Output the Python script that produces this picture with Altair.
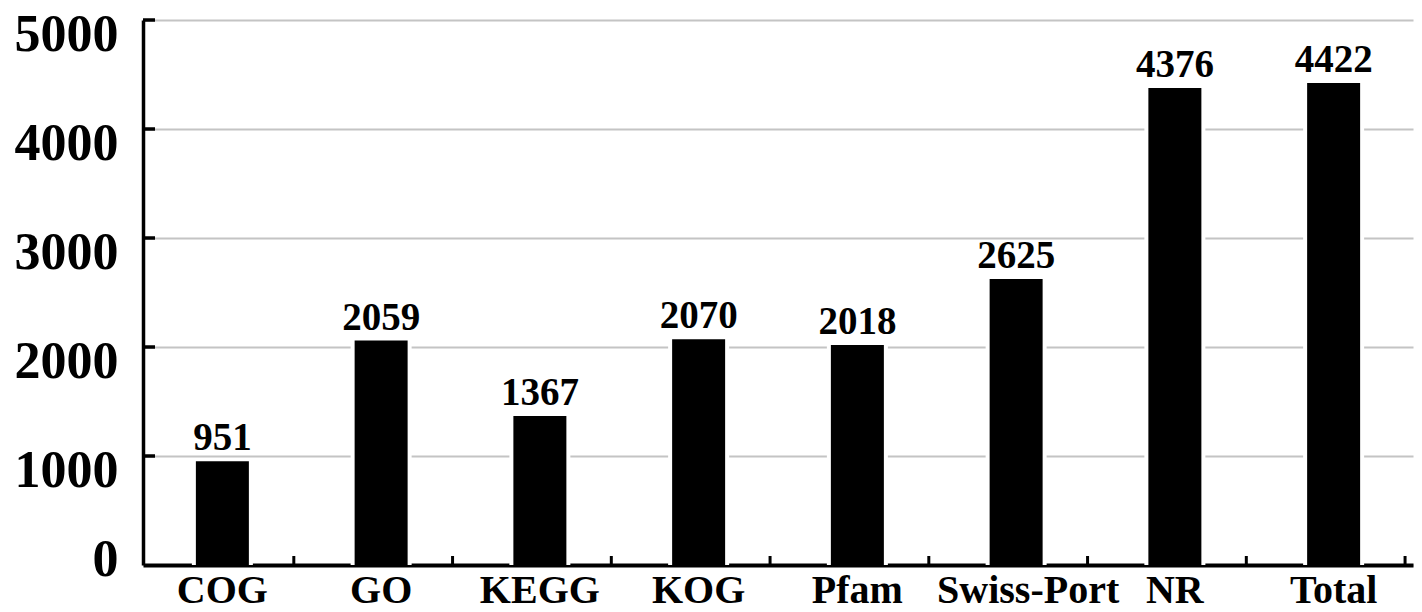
import altair as alt
import pandas as pd

# Annotated gene counts per database
databases = ["COG", "GO", "KEGG", "KOG", "Pfam", "Swiss-Port", "NR", "Total"]
counts = [951, 2059, 1367, 2070, 2018, 2625, 4376, 4422]
y_ticks = [0, 1000, 2000, 3000, 4000, 5000]

FONT = "Liberation Serif"

df = pd.DataFrame({"db": databases, "n": counts})
ticks_df = pd.DataFrame({"t": [v for v in y_ticks if v > 0]})

x_axis = alt.Axis(
    labelAngle=0,
    labelFont=FONT,
    labelFontSize=40,
    labelFontWeight="bold",
    labelColor="black",
    labelPadding=5,
    labelLimit=400,
    labelOffset={"condition": {"test": "datum.value == 'Swiss-Port'", "value": 12}, "value": 0},
    ticks=False,
    tickSize=0,
    domainColor="black",
    domainWidth=4,
    grid=False,
)
y_scale = alt.Scale(domain=[0, 5000], nice=False)
y_axis = alt.Axis(
    values=y_ticks,
    format="d",
    labelFont=FONT,
    labelFontSize=52,
    labelFontWeight="bold",
    labelColor="black",
    labelPadding=25,
    labelBaseline="middle",
    labelOffset={"condition": {"test": "datum.value == 0", "value": -6}, "value": 14},
    ticks=False,
    tickSize=0,
    domainColor="black",
    domainWidth=3.5,
    grid=True,
    gridColor="#c4c4c4",
    gridWidth=2,
)

X = alt.X("db:N", sort=None, title=None)
Y = alt.Y("n:Q", scale=y_scale, title=None)

base = alt.Chart(df)

# white halo that breaks the gridlines around each bar; carries both axes
halo = base.mark_bar(color="white", size=61).encode(
    x=alt.X("db:N", sort=None, title=None, axis=x_axis),
    y=alt.Y("n:Q", scale=y_scale, title=None, axis=y_axis),
)

bars = base.mark_bar(color="black", size=53).encode(x=X, y=Y)

labels = base.mark_text(
    font=FONT, fontSize=39, fontWeight="bold", color="black",
    baseline="alphabetic", dy=-11,
).encode(x=X, y=Y, text=alt.Text("n:Q", format="d"))

# inward ticks on the value axis
y_tick_marks = alt.Chart(ticks_df).mark_rule(color="black", strokeWidth=3.5).encode(
    y=alt.Y("t:Q", scale=y_scale, title=None),
    x=alt.value(0),
    x2=alt.value(12),
)

# upward ticks at the category boundaries
x_tick_marks = base.mark_rule(color="black", strokeWidth=3).encode(
    x=alt.X("db:N", sort=None, title=None, bandPosition=1),
    y=alt.value(545),
    y2=alt.value(536),
)

chart = (
    alt.layer(halo, bars, labels, y_tick_marks, x_tick_marks)
    .properties(
        width=1270,
        height=545,
        autosize=alt.AutoSizeParams(type="none"),
        padding={"left": 143, "top": 20, "right": 9, "bottom": 47},
        background="white",
    )
    .configure_view(stroke=None)
)

chart.save("out.html", embed_options={"renderer": "svg", "actions": False})
